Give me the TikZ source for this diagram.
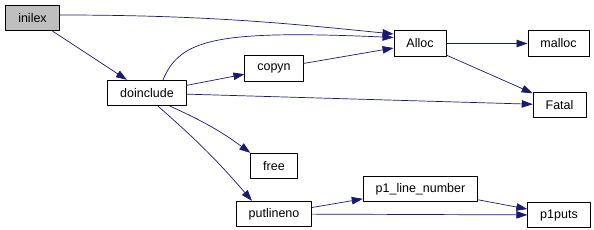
\documentclass[tikz,border=0pt]{standalone}
\usepackage{fontspec}
\setmainfont{Liberation Sans}
\usepackage{xcolor}
\usepackage{tikz}
\usetikzlibrary{arrows.meta}
\definecolor{callblue}{HTML}{191970}
\definecolor{rootgray}{HTML}{BFBFBF}
\tikzset{
    every picture/.style={line cap=round,line join=round},
    fnbox/.style={draw=black,fill=white,line width=0.8pt,
      minimum height=25.5pt,inner xsep=12.5pt,inner ysep=0pt,
      font=\fontsize{12.5}{14}\selectfont,text=black},
    rootbox/.style={fill=rootgray},
    callarrow/.style={-{Triangle[length=11pt,width=7.5pt]},draw=callblue,
      line width=0.7pt}
}

\begin{document}
\begin{tikzpicture}[x=1pt,y=-1pt]
  \useasboundingbox (0,0) rectangle (594,230);
  \node[fnbox,rootbox] (inilex) at (32.5,18) {inilex};
  \node[fnbox] (doinclude) at (147,93) {doinclude};
  \node[fnbox] (copyn) at (274,68.5) {copyn};
  \node[fnbox] (alloc) at (420,43.5) {Alloc};
  \node[fnbox] (malloc) at (558.5,43.5) {malloc};
  \node[fnbox] (fatal) at (559.5,105) {Fatal};
  \node[fnbox] (free) at (274,166) {free};
  \node[fnbox] (putlineno) at (274,214) {putlineno};
  \node[fnbox] (lineno) at (420.5,189) {p1\_line\_number};
  \node[fnbox] (puts) at (559,215) {p1puts};
  % calls out of inilex
  \draw[callarrow] ([yshift=3pt]inilex.east) .. controls +(150,0) and +(-100,-10) .. ([yshift=9.5pt]alloc.west);
  \draw[callarrow] (inilex) -- (doinclude);
  % calls out of doinclude
  \draw[callarrow] ([xshift=16pt]doinclude.north) .. controls +(17,-40) and +(-180,-8) .. ([yshift=6pt]alloc.west);
  \draw[callarrow] (doinclude) -- (copyn);
  \draw[callarrow] (doinclude) -- (fatal);
  \draw[callarrow] ([xshift=23pt]doinclude.south) to[bend left=6] (free.north west);
  \draw[callarrow] ([xshift=11pt]doinclude.south) to[bend left=4] ([xshift=-22pt]putlineno.north);
  \draw[callarrow] (copyn) -- (alloc);
  \draw[callarrow] (alloc) -- (malloc);
  \draw[callarrow] (alloc) -- (fatal);
  \draw[callarrow] (putlineno) -- (lineno);
  \draw[callarrow] (putlineno) -- (puts);
  \draw[callarrow] (lineno) -- (puts);
\end{tikzpicture}
\end{document}
